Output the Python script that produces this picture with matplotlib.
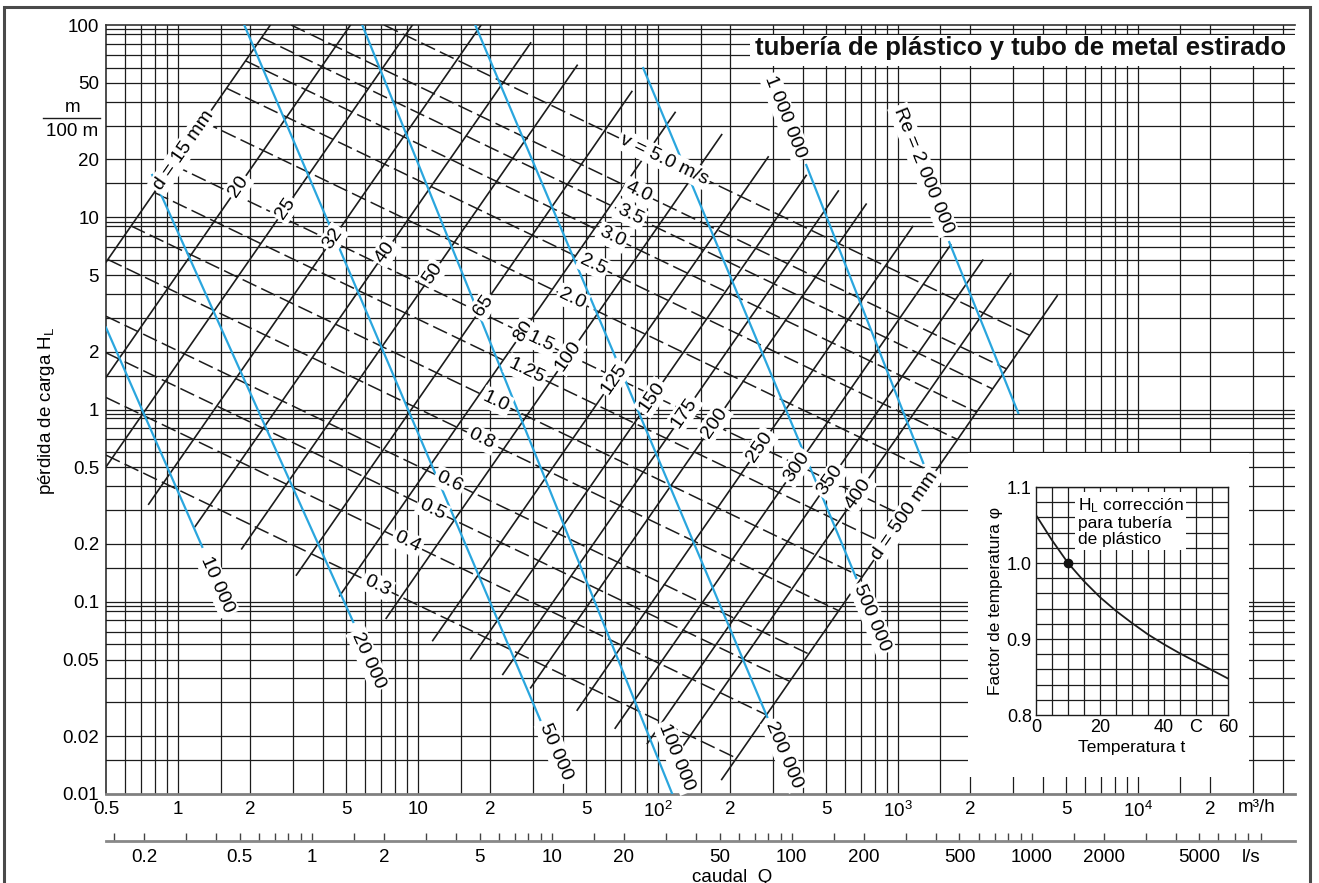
import numpy as np
import matplotlib.pyplot as plt
from matplotlib.patches import Rectangle
from matplotlib.lines import Line2D
from matplotlib.ticker import NullLocator, FixedLocator, NullFormatter

plt.rcParams['font.family'] = ['Liberation Sans', 'DejaVu Sans']
plt.rcParams['mathtext.fontset'] = 'custom'
plt.rcParams['mathtext.rm'] = 'Liberation Sans'
plt.rcParams['mathtext.it'] = 'Liberation Sans:italic'
plt.rcParams['mathtext.default'] = 'regular'

# pipe diameter lines (mm): end points, Q in m3/h, H_L in m/100 m
d_mm = [15, 20, 25, 32, 40, 50, 65, 80, 100, 125, 150, 175, 200, 250, 300, 350, 400, 500]
d_q_lo = [0.5, 0.5, 0.5, 0.753, 1.176, 1.838, 3.106, 4.705, 7.351, 11.49, 16.54, 22.51,
          29.41, 45.95, 66.16, 90.05, 117.6, 183.8]
d_h_lo = [5.84, 1.469, 0.503, 0.3218, 0.2463, 0.1885, 0.1376, 0.1073, 0.0820, 0.0628,
          0.0504, 0.0419, 0.0357, 0.0273, 0.0220, 0.0183, 0.0155, 0.0119]
d_q_hi = [2.42, 5.22, 9.46, 18.28, 29.4, 45.95, 77.65, 117.6, 183.8, 287.2, 413.5, 562.8,
          735.1, 1149, 1654, 2251, 2941, 4595]
d_h_hi = [100, 100, 100, 100, 80.7, 61.7, 45.1, 35.1, 26.9, 20.6, 16.5, 13.7, 11.7, 8.95,
          7.19, 5.98, 5.09, 3.90]
d_text = ['d = 15 mm', '20', '25', '32', '40', '50', '65', '80', '100', '125', '150', '175',
          '200', '250', '300', '350', '400', 'd = 500 mm']
d_lab_q = [1.05, 1.78, 2.79, 4.42, 7.29, 11.46, 18.65, 27.4, 42.2, 65.6, 94.4, 128.4, 171.1,
           265.5, 376.5, 520, 680, 1066]

# velocity lines (m/s)
v_ms = [0.3, 0.4, 0.5, 0.6, 0.8, 1.0, 1.25, 1.5, 2.0, 2.5, 3.0, 3.5, 4.0, 5.0]
v_q_lo = [0.5, 0.5, 0.5, 0.5, 0.509, 0.636, 0.795, 0.954, 1.272, 1.590, 1.909, 2.227, 2.952, 7.207]
v_h_lo = [0.579, 1.155, 1.973, 3.056, 6.03, 9.01, 13.46, 18.69, 31.38, 46.89, 65.10, 85.92, 100, 100]
v_q_hi = [212.1, 282.7, 353.4, 424.1, 565.5, 706.9, 883.6, 1060, 1414, 1767, 2121, 2474, 2827, 3534]
v_h_hi = [0.01535, 0.02577, 0.03851, 0.05347, 0.08975, 0.1341, 0.2004, 0.2782, 0.4670, 0.6978,
          0.9688, 1.279, 1.626, 2.430]
v_text = ['0.3', '0.4', '0.5', '0.6', '0.8', '1.0', '1.25', '1.5', '2.0', '2.5', '3.0', '3.5',
          '4.0', 'v = 5.0 m/s']
v_lab_q = [6.75, 9.0, 11.46, 13.5, 18.3, 21.1, 28.2, 32.3, 43.8, 53.6, 64.3, 76.6, 82.8, 106.0]

# Reynolds number lines (blue)
re_num = [1e4, 2e4, 5e4, 1e5, 2e5, 5e5, 1e6, 2e6]
re_q_a = [0.5, 0.779, 1.884, 5.845, 17.28, 86.6, 413.7, 1631]
re_h_a = [2.67, 16.59, 100, 100, 100, 59.7, 18.7, 7.43]
re_q_b = [1.259, 5.36, 32.24, 114.4, 284.6, 668.3, 1271, 3162]
re_h_b = [0.193, 0.0785, 0.02426, 0.01, 0.02515, 0.1329, 0.527, 0.959]
re_text = ['10 000', '20 000', '50 000', '100 000', '200 000', '500 000', '1 000 000',
           'Re = 2 000 000']
re_lab_q = [1.454, 6.2, 37.6, 118.9, 335.4, 779, 338.5, 1270]
re_lab_h = [0.1222, 0.0498, 0.01654, 0.01558, 0.01595, 0.0823, 33.2, 17.6]

# temperature correction inset
temp_c = [0, 5, 10, 15, 20, 25, 30, 35, 40, 45, 50, 55, 60]
phi = [1.063, 1.030, 1.000, 0.976, 0.955, 0.937, 0.921, 0.906, 0.893, 0.881, 0.870, 0.859, 0.848]

x_ticks = [0.5, 1, 2, 5, 10, 20, 50, 100, 200, 500, 1000, 2000, 5000, 1e4, 2e4]
x_labels = ['0.5', '1', '2', '5', '10', '2', '5', '$10^2$', '2', '5', '$10^3$', '2', '5',
            '$10^4$', '2']
y_ticks = [0.01, 0.02, 0.05, 0.1, 0.2, 0.5, 1, 2, 5, 10, 20, 50, 100]
y_labels = ['0.01', '0.02', '0.05', '0.1', '0.2', '0.5', '1', '2', '5', '10', '20', '50', '100']
ls_ticks = [0.2, 0.5, 1, 2, 5, 10, 20, 50, 100, 200, 500, 1000, 2000, 5000]
ls_labels = ['0.2', '0.5', '1', '2', '5', '10', '20', '50', '100', '200', '500', '1000',
             '2000', '5000']

W, H = 1319, 883
fig = plt.figure(figsize=(W / 100, H / 100), dpi=100)


def fx(px):
    return px / W


def fy(py):
    return 1 - py / H


ax = fig.add_axes([fx(106), fy(794), (1295 - 106) / W, (794 - 25) / H])
ax.set_xscale('log')
ax.set_yscale('log')
ax.set_xlim(0.5, 4.5e4)
ax.set_ylim(0.01, 100)

ink = '#1c1c1c'
blue = '#2aa6de'

# grid
mant_x = (1, 1.5, 2, 3, 4, 5, 6, 7, 8, 9)
for k in range(-1, 5):
    for m in mant_x:
        q = m * 10.0 ** k
        if 0.5 < q < 4.5e4:
            ax.axvline(q, color=ink, lw=0.9, zorder=1)
mant_y = (1, 1.5, 2, 3, 4, 5, 6, 7, 8, 9, 9.5)
for k in range(-2, 2):
    for m in mant_y:
        h = m * 10.0 ** k
        if 0.01 < h < 100:
            ax.axhline(h, color=ink, lw=0.9, zorder=1)

ax.spines['right'].set_visible(False)
ax.spines['top'].set_color('#333333')
ax.spines['top'].set_linewidth(1.2)
ax.spines['left'].set_color(ink)
ax.spines['left'].set_linewidth(1.1)
ax.spines['bottom'].set_color('#808080')
ax.spines['bottom'].set_linewidth(2)

ax.set_xticks(x_ticks, labels=x_labels)
ax.set_yticks(y_ticks, labels=y_labels)
ax.xaxis.set_minor_locator(NullLocator())
ax.yaxis.set_minor_locator(NullLocator())
ax.tick_params(axis='both', which='both', length=0, labelsize=13.5)
ax.tick_params(axis='x', pad=5)
ax.tick_params(axis='y', pad=5)


def angle_of(q0, h0, q1, h1):
    p0 = ax.transData.transform((q0, h0))
    p1 = ax.transData.transform((q1, h1))
    a = np.degrees(np.arctan2(p1[1] - p0[1], p1[0] - p0[0]))
    if a > 90:
        a -= 180
    if a < -90:
        a += 180
    return a


def on_line(q0, h0, q1, h1, qa):
    t = (np.log(qa) - np.log(q0)) / (np.log(q1) - np.log(q0))
    return np.exp(np.log(h0) + t * (np.log(h1) - np.log(h0)))


box = dict(boxstyle='square,pad=0.12', fc='white', ec='none')
lab_fs = 14

for i in range(len(d_mm)):
    ax.plot([d_q_lo[i], d_q_hi[i]], [d_h_lo[i], d_h_hi[i]], color=ink, lw=1.2, zorder=3)
for i in range(len(v_ms)):
    ax.plot([v_q_lo[i], v_q_hi[i]], [v_h_lo[i], v_h_hi[i]], color=ink, lw=1.1,
            ls=(0, (10, 3.5)), zorder=3)
for i in range(len(re_num)):
    ax.plot([re_q_a[i], re_q_b[i]], [re_h_a[i], re_h_b[i]], color=blue, lw=1.6, zorder=4)

for i in range(len(d_mm)):
    ha_ = on_line(d_q_lo[i], d_h_lo[i], d_q_hi[i], d_h_hi[i], d_lab_q[i])
    ang = angle_of(d_q_lo[i], d_h_lo[i], d_q_hi[i], d_h_hi[i])
    ax.text(d_lab_q[i], ha_, d_text[i], rotation=ang, rotation_mode='anchor',
            ha='center', va='center', fontsize=lab_fs, bbox=box, zorder=6)
for i in range(len(v_ms)):
    ha_ = on_line(v_q_lo[i], v_h_lo[i], v_q_hi[i], v_h_hi[i], v_lab_q[i])
    ang = angle_of(v_q_lo[i], v_h_lo[i], v_q_hi[i], v_h_hi[i])
    ax.text(v_lab_q[i], ha_, v_text[i], rotation=ang, rotation_mode='anchor',
            ha='center', va='center', fontsize=lab_fs, bbox=box, zorder=6)
for i in range(len(re_num)):
    ang = angle_of(re_q_a[i], re_h_a[i], re_q_b[i], re_h_b[i])
    ax.text(re_lab_q[i], re_lab_h[i], re_text[i], rotation=ang, rotation_mode='anchor',
            ha='center', va='center', fontsize=lab_fs, bbox=box, zorder=6)

# second flow scale in l/s
sec = ax.secondary_xaxis(-47 / 769, functions=(lambda q: q / 3.6, lambda s: s * 3.6))
sec.set_xticks(ls_ticks, labels=ls_labels)
ls_minor = [m * 10.0 ** k for k in range(-1, 5) for m in (1.5, 3, 4, 6, 7, 8, 9)
            if 0.14 < m * 10.0 ** k < 12500]
sec.xaxis.set_minor_locator(FixedLocator(ls_minor))
sec.xaxis.set_minor_formatter(NullFormatter())
sec.tick_params(which='both', direction='in', length=6, width=1, color='#444444',
                labelsize=13.5, pad=6)
sec.spines['bottom'].set_color('#888888')
sec.spines['bottom'].set_linewidth(2)

fig.text(fx(1257), fy(808), 'm³/h', ha='center', va='center', fontsize=13.5)
fig.text(fx(1251), fy(858), 'l/s', ha='center', va='center', fontsize=13.5)
fig.text(fx(732), fy(877), 'caudal  Q', ha='center', va='center', fontsize=13.5)
fig.text(fx(47), fy(411), 'pérdida de carga H$_L$', rotation=90, ha='center',
         va='center', fontsize=13.5)
fig.text(fx(73), fy(108), 'm', ha='center', va='center', fontsize=13.5)
fig.add_artist(Line2D([fx(43), fx(100)], [fy(118), fy(118)], color=ink, lw=1,
                      transform=fig.transFigure))
fig.text(fx(72), fy(131), '100 m', ha='center', va='center', fontsize=13.5)

# title box inside the chart
fig.add_artist(Rectangle((fx(750), fy(66)), (1296 - 750) / W, 31 / H,
                         transform=fig.transFigure, fc='white', ec='none', zorder=1))
fig.text(fx(1021), fy(48), 'tubería de plástico y tubo de metal estirado', ha='center',
         va='center', fontsize=18.5, fontweight='bold', color='#111111', zorder=3)

# temperature correction inset
fig.add_artist(Rectangle((fx(968), fy(777)), (1249 - 968) / W, (777 - 453) / H,
                         transform=fig.transFigure, fc='white', ec='none', zorder=1))
axi = fig.add_axes([fx(1036), fy(715), 192 / W, 228 / H], zorder=2)
axi.set_xlim(0, 60)
axi.set_ylim(0.8, 1.1)
for t in range(5, 60, 5):
    axi.axvline(t, color=ink, lw=0.9, zorder=1)
for p in np.arange(0.82, 1.1, 0.02):
    axi.axhline(p, color=ink, lw=0.9, zorder=1)
for s in axi.spines.values():
    s.set_color(ink)
    s.set_linewidth(1)
axi.plot(temp_c, phi, color=ink, lw=1.3, zorder=3)
axi.plot([10], [1.0], 'o', ms=6, color='#111111', zorder=4)
axi.set_xticks([0, 20, 40, 50, 60], labels=['0', '20', '40', 'C', '60'])
axi.set_yticks([0.8, 0.9, 1.0, 1.1], labels=['0.8', '0.9', '1.0', '1.1'])
axi.tick_params(length=0, labelsize=13, pad=3)
axi.set_xlabel('Temperatura t', fontsize=12.5, labelpad=3)
axi.set_ylabel('Factor de temperatura φ', fontsize=12.5, labelpad=3)
axi.text(13, 1.088, 'H$_L$ corrección\npara tubería\nde plástico', ha='left', va='top',
         fontsize=12.5, linespacing=1.1, zorder=5,
         bbox=dict(boxstyle='square,pad=0.15', fc='white', ec='none'))

# outer frame
fig.add_artist(Rectangle((fx(4), -0.05), (1310 - 4) / W, fy(7) + 0.05,
                         transform=fig.transFigure, fill=False, ec='#4a4a4a', lw=2.2,
                         zorder=5))

fig.savefig('out.png', dpi=100)
